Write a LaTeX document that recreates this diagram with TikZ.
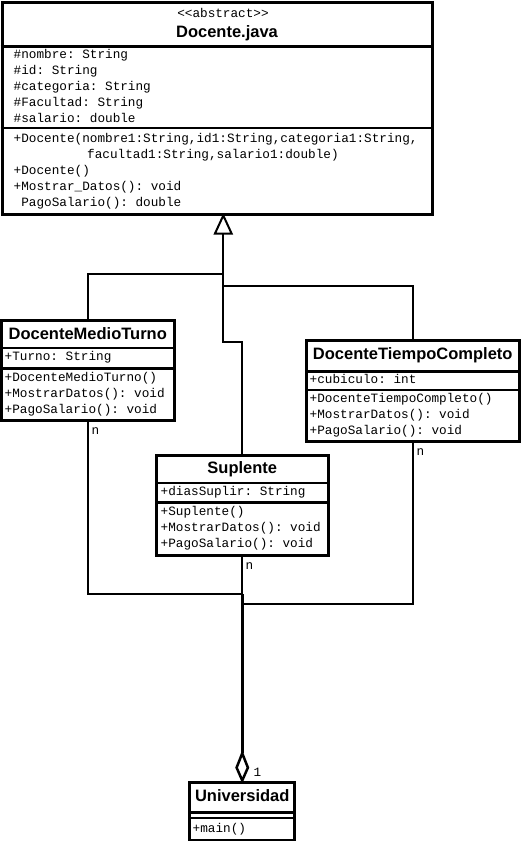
\documentclass[tikz,border=0pt]{standalone}
\usepackage{fontspec}
\setmainfont{Liberation Sans}
\setmonofont{Liberation Mono}
\begin{document}
\begin{tikzpicture}[x=1pt,y=-1pt,
  cls/.style={draw, line width=3pt, fill=white, inner sep=0pt},
  div/.style={line width=2.5pt},
  mono/.style={font=\fontsize{12.7}{14}\selectfont\ttfamily, anchor=west, inner sep=0pt, text height=8pt, text depth=2.5pt},
  ttl/.style={font=\fontsize{16.5}{18}\selectfont\bfseries, inner sep=0pt, text height=12pt, text depth=3pt},
  conn/.style={line width=2pt},
  mult/.style={font=\fontsize{12.7}{14}\selectfont\ttfamily, anchor=west, inner sep=0pt, text height=8pt, text depth=2.5pt}]
\useasboundingbox (0,0) rectangle (521,841);
\fill[white] (0,0) rectangle (521,841);

% ---------- class boxes ----------
\node[cls, minimum width=430pt, minimum height=212pt] (doc) at (217,108) {};
\node[cls, minimum width=172.5pt, minimum height=100pt] (dmt) at (87.75,370) {};
\node[cls, minimum width=212.5pt, minimum height=101.5pt] (dtc) at (412.75,390.75) {};
\node[cls, minimum width=171.5pt, minimum height=100.5pt] (sup) at (242.25,505.25) {};
\node[cls, minimum width=105pt, minimum height=58pt] (uni) at (242.25,811) {};

% ---------- dividers ----------
\draw[div] (doc.west |- 0,46.5) -- (doc.east |- 0,46.5);
\draw[div] (doc.west |- 0,128) -- (doc.east |- 0,128);
\draw[div] (dmt.west |- 0,348) -- (dmt.east |- 0,348);
\draw[div] (dmt.west |- 0,368.5) -- (dmt.east |- 0,368.5);
\draw[div] (dtc.west |- 0,371.5) -- (dtc.east |- 0,371.5);
\draw[div] (dtc.west |- 0,390) -- (dtc.east |- 0,390);
\draw[div] (sup.west |- 0,483) -- (sup.east |- 0,483);
\draw[div] (sup.west |- 0,502.5) -- (sup.east |- 0,502.5);
\draw[div] (uni.west |- 0,812.5) -- (uni.east |- 0,812.5);
\draw[div] (uni.west |- 0,818) -- (uni.east |- 0,818);

% ---------- Docente ----------
\node[mono, anchor=center] (dst) at (223,15) {<<abstract>>};
\node[ttl] (dname) at (227,33) {Docente.java};
\node[mono] (da1) at (13.5,56) {\#nombre: String};
\node[mono] (da2) at (13.5,72) {\#id: String};
\node[mono] (da3) at (13.5,88) {\#categoria: String};
\node[mono] (da4) at (13.5,104) {\#Facultad: String};
\node[mono] (da5) at (13.5,120) {\#salario: double};
\node[mono] (dm1) at (13.5,140) {+Docente(nombre1:String,id1:String,categoria1:String,};
\node[mono] (dm1b) at (87,156) {facultad1:String,salario1:double)};
\node[mono] (dm2) at (13.5,172) {+Docente()};
\node[mono] (dm3) at (13.5,188) {+Mostrar\_Datos(): void};
\node[mono] (dm4) at (13.5,204) {\ PagoSalario(): double};

% ---------- DocenteMedioTurno ----------
\node[ttl] (dmtname) at (87.75,335) {DocenteMedioTurno};
\node[mono] (dmta) at (4.5,358) {+Turno: String};
\node[mono] (dmtm1) at (4.5,379) {+DocenteMedioTurno()};
\node[mono] (dmtm2) at (4.5,395) {+MostrarDatos(): void};
\node[mono] (dmtm3) at (4.5,411) {+PagoSalario(): void};

% ---------- DocenteTiempoCompleto ----------
\node[ttl] (dtcname) at (412.75,355) {DocenteTiempoCompleto};
\node[mono] (dtca) at (309.5,380.5) {+cubiculo: int};
\node[mono] (dtcm1) at (309.5,400) {+DocenteTiempoCompleto()};
\node[mono] (dtcm2) at (309.5,416) {+MostrarDatos(): void};
\node[mono] (dtcm3) at (309.5,432) {+PagoSalario(): void};

% ---------- Suplente ----------
\node[ttl] (supname) at (242.25,469.3) {Suplente};
\node[mono] (supa) at (160.5,493) {+diasSuplir: String};
\node[mono] (supm1) at (160.5,513) {+Suplente()};
\node[mono] (supm2) at (160.5,529) {+MostrarDatos(): void};
\node[mono] (supm3) at (160.5,545) {+PagoSalario(): void};

% ---------- Universidad ----------
\node[ttl] (uniname) at (242.25,797.3) {Universidad};
\node[mono] (unim) at (192.5,829.3) {+main()};

% ---------- generalization ----------
\coordinate (apex) at (223.3,215.5);
\coordinate (tb) at (223.3,233.5);
\draw[conn] (dmt.north) |- (223.3,274.3) -- (tb);
\draw[conn] (dtc.north) |- (223.3,285.7) -- (tb);
\draw[conn] (sup.north) |- (223.3,341.7) -- (tb);
\draw[line width=2pt, fill=white, line join=miter] (apex) -- (215,233.5) -- (231.6,233.5) -- cycle;

% ---------- aggregation ----------
\coordinate (dtip) at (242.25,753.3);
\draw[conn] (dmt.south) |- (242.25,594) -- (dtip);
\draw[conn] (dtc.south) |- (242.25,604) -- (dtip);
\draw[conn] (sup.south) -- (dtip);
\draw[line width=3.5pt] (242.25,594) -- (dtip);
\draw[line width=2.5pt, fill=white, line join=miter] (dtip) -- (247.9,767.6) -- (uni.north) -- (236.6,767.6) -- cycle;

% ---------- multiplicities ----------
\node[mult] (n1) at (91.5,432) {n};
\node[mult] (n2) at (245.5,567) {n};
\node[mult] (n3) at (416.5,452.5) {n};
\node[mult] (one) at (253.5,773.3) {1};
\end{tikzpicture}
\end{document}
